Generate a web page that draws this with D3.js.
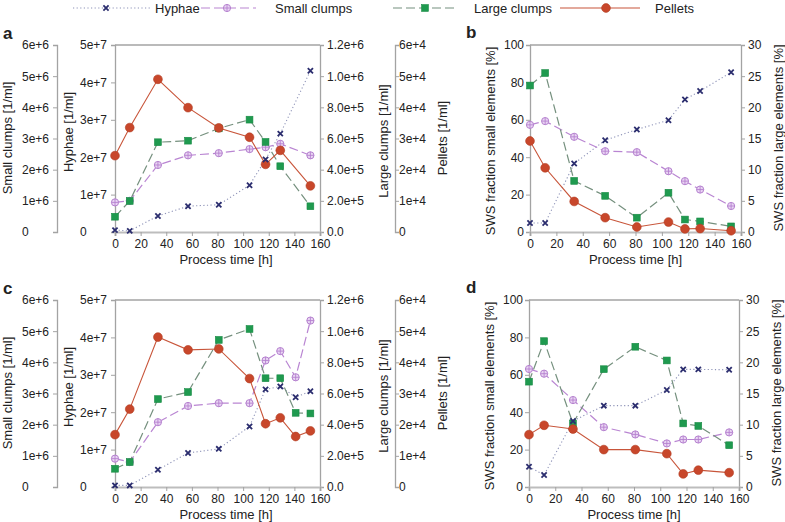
<!DOCTYPE html>
<html><head><meta charset="utf-8">
<script src="https://cdn.jsdelivr.net/npm/d3@7"></script>
<style>
body{margin:0;background:#fff;}
text{font-family:"Liberation Sans",Arial,Helvetica,sans-serif;fill:#222;}
</style></head>
<body><svg id="c" width="785" height="522"></svg>
<script>
// ---------- data ----------
const seriesNames = ["Hyphae", "Small clumps", "Large clumps", "Pellets"];
const timeAB = [0, 11.5, 33.5, 57, 81, 105, 117.5, 129, 152.5];
const timeC = [0, 11.5, 33.5, 57, 81, 105, 117.5, 129, 141, 152.5];
const timeD = [0, 11.5, 33.5, 57, 81, 105, 117.5, 129, 152.5];
const xTicks = [0, 20, 40, 60, 80, 100, 120, 140, 160];

// panel a (counts, 1/ml)
const hyphaeA = [0.5e6, 0.3e6, 4.3e6, 6.9e6, 7.3e6, 1.25e7, 1.94e7, 2.63e7, 4.31e7];
const smallA = [0.95e6, 1.0e6, 2.15e6, 2.46e6, 2.53e6, 2.66e6, 2.72e6, 2.83e6, 2.46e6];
const largeA = [98000, 199000, 576000, 586000, 665000, 721000, 578000, 422000, 165000];
const pelletsA = [24500, 33500, 49000, 39900, 33400, 30400, 21700, 26200, 14800];
// panel b (fractions, %)
const hyphaeB = [4.8, 4.8, 36.6, 49.1, 54.8, 59.8, 70.9, 75.4, 85.4];
const smallB = [57.3, 59.3, 50.9, 43.2, 42.7, 32.5, 27.2, 22.7, 13.9];
const largeB = [23.5, 25.5, 8.2, 5.8, 2.3, 6.3, 2.0, 1.7, 0.9];
const pelletsB = [14.6, 10.3, 4.9, 2.3, 0.8, 1.6, 0.5, 0.55, 0.2];
// panel c (counts, 1/ml)
const hyphaeC = [4.3e5, 4.3e5, 4.6e6, 9.1e6, 1.02e7, 1.62e7, 2.61e7, 2.69e7, 2.40e7, 2.56e7];
const smallC = [0.91e6, 0.80e6, 2.08e6, 2.60e6, 2.69e6, 2.69e6, 4.06e6, 4.36e6, 3.52e6, 5.34e6];
const largeC = [117000, 160000, 564000, 609000, 944000, 1014000, 698000, 698000, 476000, 472000];
const pelletsC = [16800, 25000, 48100, 44000, 44300, 34800, 20300, 22200, 16200, 18000];
// panel d (fractions, %)
const hyphaeD = [10.8, 6.4, 35.3, 43.5, 43.5, 51.9, 62.9, 62.9, 62.7];
const smallD = [63.1, 60.6, 46.5, 32.0, 28.1, 23.3, 25.4, 25.4, 29.2];
const largeD = [16.9, 23.4, 10.2, 18.9, 22.5, 20.3, 10.2, 9.8, 6.7];
const pelletsD = [8.4, 9.9, 9.3, 6.0, 6.0, 5.35, 2.1, 2.7, 2.3];

// tick labels
const smallTicks = ["0", "1e+6", "2e+6", "3e+6", "4e+6", "5e+6", "6e+6"];
const hyphaeTicks = ["0", "1e+7", "2e+7", "3e+7", "4e+7", "5e+7"];
const largeTicks = ["0.0", "2.0e+5", "4.0e+5", "6.0e+5", "8.0e+5", "1.0e+6", "1.2e+6"];
const pelletTicks = ["0", "1e+4", "2e+4", "3e+4", "4e+4", "5e+4", "6e+4"];

// ---------- styles ----------
const AX = "#a3a3a3";
const st = {
  hyphae: {line: "#8e93b8", dash: "1.2,2.4", w: 1.1},
  small: {line: "#b985d2", dash: "9,4", w: 1.2},
  large: {line: "#75907e", dash: "9,4", w: 1.2},
  pellets: {line: "#c8553a", dash: null, w: 1.1}
};
const svg = d3.select("#c");

function mark(g, type, x, y) {
  if (type === "hyphae") {
    const s = 2.6;
    g.append("path").attr("d", `M${x-s},${y-s}L${x+s},${y+s}M${x-s},${y+s}L${x+s},${y-s}`)
      .attr("stroke", "#2b2d6e").attr("stroke-width", 1.8).attr("fill", "none");
  } else if (type === "small") {
    const r = 3.6;
    g.append("circle").attr("cx", x).attr("cy", y).attr("r", r)
      .attr("fill", "#ead6f4").attr("stroke", "#b581cf").attr("stroke-width", 1);
    g.append("path").attr("d", `M${x-r},${y}L${x+r},${y}M${x},${y-r}L${x},${y+r}`)
      .attr("stroke", "#b581cf").attr("stroke-width", 0.9);
  } else if (type === "large") {
    const s = 3.4;
    g.append("rect").attr("x", x-s).attr("y", y-s).attr("width", 2*s).attr("height", 2*s)
      .attr("fill", "#1f9a4f").attr("stroke", "#178a43").attr("stroke-width", 0.6);
  } else {
    g.append("circle").attr("cx", x).attr("cy", y).attr("r", 4.4)
      .attr("fill", "#c8472b").attr("stroke", "#b23c22").attr("stroke-width", 0.6);
  }
}

function drawSeries(g, times, vals, y, x, type) {
  const s = st[type];
  const line = d3.line().x((d, i) => x(times[i])).y(d => y(d));
  g.append("path").datum(vals).attr("d", line).attr("fill", "none")
    .attr("stroke", s.line).attr("stroke-width", s.w)
    .attr("stroke-dasharray", s.dash);
}

function vAxis(g, scale, xpos, side, labels, labelX, anchor) {
  const ax = (side === "left" ? d3.axisLeft(scale) : d3.axisRight(scale))
    .tickValues(d3.range(labels.length).map(i => scale.domain()[0] + i * (scale.domain()[1] - scale.domain()[0]) / (labels.length - 1)))
    .tickSize(4).tickFormat((d, i) => labels[i]);
  const a = g.append("g").attr("transform", `translate(${xpos},0)`).call(ax);
  a.select(".domain").attr("stroke", AX).attr("stroke-width", 1.3);
  a.selectAll(".tick line").attr("stroke", AX);
  a.selectAll(".tick text").attr("font-size", 12).attr("fill", "#222")
    .attr("text-anchor", anchor).attr("x", labelX - xpos);
  return a;
}

function xAxis(g, x, ybot, tx) {
  const a = g.append("g").attr("transform", `translate(0,${ybot})`)
    .call(d3.axisBottom(x).tickValues(xTicks).tickSize(4).tickFormat(d3.format("d")));
  a.select(".domain").attr("stroke", "#bdbdbd").attr("stroke-width", 2.2);
  a.selectAll(".tick line").attr("stroke", AX);
  a.selectAll(".tick text").attr("font-size", 12).attr("fill", "#222").attr("y", 7);
  g.append("text").attr("x", tx).attr("y", ybot + 32).attr("text-anchor", "middle")
    .attr("font-size", 13).text("Process time [h]");
}

function vTitle(g, x, y, txt) {
  g.append("text").attr("transform", `translate(${x},${y}) rotate(-90)`)
    .attr("text-anchor", "middle").attr("font-size", 13).text(txt);
}

function countPanel(top, letter, times, hy, sm, lg, pe) {
  const x0 = 115, x1 = 320, yT = top, yB = top + 187;
  const g = svg.append("g");
  const x = d3.scaleLinear().domain([0, 160]).range([x0, x1]);
  const yH = d3.scaleLinear().domain([0, 5e7]).range([yB, yT]);
  const yS = d3.scaleLinear().domain([0, 6e6]).range([yB, yT]);
  const yL = d3.scaleLinear().domain([0, 1.2e6]).range([yB, yT]);
  const yP = d3.scaleLinear().domain([0, 6e4]).range([yB, yT]);
  // frame top
  g.append("line").attr("x1", x0).attr("x2", x1).attr("y1", yT).attr("y2", yT).attr("stroke", AX).attr("stroke-width", 1.3);
  vAxis(g, yS, 57, "left", smallTicks, 22, "start");
  vAxis(g, yH, x0, "left", hyphaeTicks, 80, "start");
  vAxis(g, yL, x1, "right", largeTicks, 327, "start");
  vAxis(g, yP, 395, "right", pelletTicks, 399, "start");
  xAxis(g, x, yB, 226);
  vTitle(g, 12, yT + 93, "Small clumps [1/ml]");
  vTitle(g, 73, yT + 87, "Hyphae [1/ml]");
  vTitle(g, 388, yT + 96, "Large clumps [1/ml]");
  vTitle(g, 447, yT + 93, "Pellets [1/ml]");
  drawSeries(g, times, hy, yH, x, "hyphae");
  drawSeries(g, times, sm, yS, x, "small");
  drawSeries(g, times, lg, yL, x, "large");
  drawSeries(g, times, pe, yP, x, "pellets");
  times.forEach((t, i) => mark(g, "small", x(t), yS(sm[i])));
  times.forEach((t, i) => mark(g, "large", x(t), yL(lg[i])));
  times.forEach((t, i) => mark(g, "pellets", x(t), yP(pe[i])));
  times.forEach((t, i) => mark(g, "hyphae", x(t), yH(hy[i])));
  g.append("text").attr("x", 3).attr("y", yT - 6).attr("font-size", 17).attr("font-weight", "bold").attr("fill", "#111").text(letter);
}

function fracPanel(top, letter, x0, x1, times, hy, sm, lg, pe) {
  const yT = top, yB = top + 187;
  const g = svg.append("g");
  const x = d3.scaleLinear().domain([0, 160]).range([x0, x1]);
  const yLft = d3.scaleLinear().domain([0, 100]).range([yB, yT]);
  const yRgt = d3.scaleLinear().domain([0, 30]).range([yB, yT]);
  g.append("line").attr("x1", x0).attr("x2", x1).attr("y1", yT).attr("y2", yT).attr("stroke", AX).attr("stroke-width", 1.3);
  vAxis(g, yLft, x0, "left", ["0", "20", "40", "60", "80", "100"], x0 - 6, "end");
  vAxis(g, yRgt, x1, "right", ["0", "5", "10", "15", "20", "25", "30"], x1 + 7, "start");
  xAxis(g, x, yB, (x0 + x1) / 2);
  vTitle(g, x0 - 35, yT + 96, "SWS fraction small elements [%]");
  vTitle(g, x1 + 42, yT + 93, "SWS fraction large elements [%]");
  drawSeries(g, times, hy, yLft, x, "hyphae");
  drawSeries(g, times, sm, yLft, x, "small");
  drawSeries(g, times, lg, yRgt, x, "large");
  drawSeries(g, times, pe, yRgt, x, "pellets");
  times.forEach((t, i) => mark(g, "small", x(t), yLft(sm[i])));
  times.forEach((t, i) => mark(g, "large", x(t), yRgt(lg[i])));
  times.forEach((t, i) => mark(g, "pellets", x(t), yRgt(pe[i])));
  times.forEach((t, i) => mark(g, "hyphae", x(t), yLft(hy[i])));
  g.append("text").attr("x", 466).attr("y", yT - 7).attr("font-size", 17).attr("font-weight", "bold").attr("fill", "#111").text(letter);
}

countPanel(45, "a", timeAB, hyphaeA, smallA, largeA, pelletsA);
fracPanel(45, "b", 530, 741, timeAB, hyphaeB, smallB, largeB, pelletsB);
countPanel(300, "c", timeC, hyphaeC, smallC, largeC, pelletsC);
fracPanel(300, "d", 529, 739, timeD, hyphaeD, smallD, largeD, pelletsD);

// ---------- legend ----------
const legendItems = [
  {type: "hyphae", x1: 73, x2: 150, mx: 106, tx: 155},
  {type: "small", x1: 201, x2: 256, mx: 227, tx: 275},
  {type: "large", x1: 393, x2: 457, mx: 425, tx: 474},
  {type: "pellets", x1: 560, x2: 640, mx: 606, tx: 655}
];
const lg = svg.append("g");
legendItems.forEach((it, i) => {
  const s = st[it.type];
  lg.append("line").attr("x1", it.x1).attr("x2", it.x2).attr("y1", 8).attr("y2", 8)
    .attr("stroke", s.line).attr("stroke-width", s.w).attr("stroke-dasharray", s.dash);
  mark(lg, it.type, it.mx, 8);
  lg.append("text").attr("x", it.tx).attr("y", 12.5).attr("font-size", 13).text(seriesNames[i]);
});
</script></body></html>
